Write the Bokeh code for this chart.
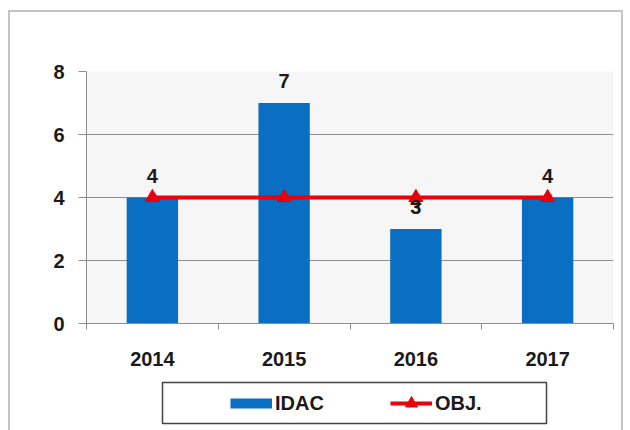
from bokeh.plotting import figure
from bokeh.models import (ColumnDataSource, FixedTicker, Legend, LegendItem,
                          Range1d, BoxAnnotation)
from bokeh.layouts import column
from bokeh.core.properties import value
from bokeh.embed import file_html
from bokeh.resources import INLINE

years = ["2014", "2015", "2016", "2017"]
idac = [4, 7, 3, 4]
obj = [4, 4, 4, 4]
y_ticks = [0, 2, 4, 6, 8]

FONT = "Liberation Sans"
FS = "20px"
BLUE = "#0a6fc2"
RED = "#e8000b"
GRID = "#8e8e8e"
TXT = "#1a1a1a"

pos = [i + 0.5 for i in range(len(years))]
src = ColumnDataSource(dict(x=pos, idac=idac, obj=obj,
                            idac_lbl=[str(v) for v in idac],
                            obj_lbl=[str(v) for v in obj]))

p = figure(width=611, height=358, output_backend="svg", toolbar_location=None,
           x_range=Range1d(0, len(years)), y_range=Range1d(0, 8),
           min_border_left=76, min_border_right=8, min_border_top=59,
           min_border_bottom=47)
p.background_fill_color = "#f6f6f6"
p.border_fill_color = "white"
p.outline_line_color = None

# OBJ labels (drawn first, mostly hidden under bars and line)
p.text(x="x", y="obj", text="obj_lbl", source=src, text_align="center",
       text_baseline="middle", y_offset=3, text_font=value(FONT),
       text_font_style="bold", text_font_size=FS, text_color="#3a1a1a")

p.vbar(x="x", top="idac", width=0.39, source=src, fill_color=BLUE, line_color=None)

p.line(x="x", y="obj", source=src, line_color=RED, line_width=4)
p.scatter(x="x", y="obj", source=src, marker="triangle", size=14,
          fill_color=RED, line_color=RED)

p.text(x="x", y="idac", text="idac_lbl", source=src, text_align="center",
       text_baseline="middle", y_offset=-22, text_font=value(FONT),
       text_font_style="bold", text_font_size=FS, text_color=TXT)

p.xgrid.grid_line_color = None
p.ygrid.grid_line_color = GRID
p.ygrid.ticker = FixedTicker(ticks=y_ticks)

p.yaxis.ticker = FixedTicker(ticks=y_ticks)
p.yaxis.axis_line_color = GRID
p.yaxis.major_tick_line_color = GRID
p.yaxis.major_tick_out = 8
p.yaxis.major_tick_in = 0
p.yaxis.minor_tick_line_color = None
p.yaxis.major_label_standoff = 14
p.yaxis.major_label_text_font = FONT
p.yaxis.major_label_text_font_style = "bold"
p.yaxis.major_label_text_font_size = FS
p.yaxis.major_label_text_color = TXT

p.xaxis.ticker = FixedTicker(ticks=pos, minor_ticks=list(range(len(years) + 1)))
p.xaxis.major_label_overrides = {x: y for x, y in zip(pos, years)}
p.xaxis.axis_line_color = GRID
p.xaxis.major_tick_line_color = None
p.xaxis.major_tick_out = 0
p.xaxis.minor_tick_line_color = GRID
p.xaxis.minor_tick_out = 6
p.xaxis.minor_tick_in = 0
p.xaxis.major_label_standoff = 22
p.xaxis.major_label_text_font = FONT
p.xaxis.major_label_text_font_style = "bold"
p.xaxis.major_label_text_font_size = FS
p.xaxis.major_label_text_color = TXT

# legend strip below the chart
lg = figure(width=611, height=60, output_backend="svg", toolbar_location=None,
            x_range=Range1d(0, len(years)), y_range=Range1d(0, 8),
            x_axis_type=None, y_axis_type=None,
            min_border_left=76, min_border_right=8, min_border_top=0,
            min_border_bottom=0)
lg.grid.visible = False
lg.background_fill_color = "white"
lg.border_fill_color = "white"
lg.outline_line_color = None
# legend swatches (hidden renderers, shown only as legend glyphs)
r_idac = lg.line(x="x", y="idac", source=src, line_color=BLUE, line_width=10,
                 visible=False)
r_line = lg.line(x="x", y="obj", source=src, line_color=RED, line_width=4,
                 visible=False)
r_mark = lg.scatter(x="x", y="obj", source=src, marker="triangle", size=14,
                    fill_color=RED, line_color=RED, visible=False)
lg.add_layout(BoxAnnotation(left=152, right=536, top=12, bottom=53,
                            left_units="canvas", right_units="canvas",
                            top_units="canvas", bottom_units="canvas",
                            fill_alpha=0, line_color="#444444", line_alpha=1,
                            line_width=1.5))
legend = Legend(items=[LegendItem(label="IDAC", renderers=[r_idac]),
                       LegendItem(label="OBJ.", renderers=[r_line, r_mark])],
                orientation="horizontal", location=(144, 12),
                border_line_color=None, background_fill_alpha=0,
                inactive_fill_alpha=0,
                padding=0, margin=0, spacing=66, glyph_width=42, glyph_height=30,
                label_standoff=3, label_text_font=FONT,
                label_text_font_style="bold", label_text_font_size=FS,
                label_text_color=TXT)
lg.add_layout(legend, "center")

layout = column(p, lg, spacing=0,
                styles={"margin-left": "8px", "margin-top": "10px",
                        "border-left": "2px solid #c4c4c4",
                        "border-top": "2px solid #c4c4c4",
                        "border-right": "2px solid #c4c4c4"})

open("out.html", "w").write(file_html(layout, INLINE))
